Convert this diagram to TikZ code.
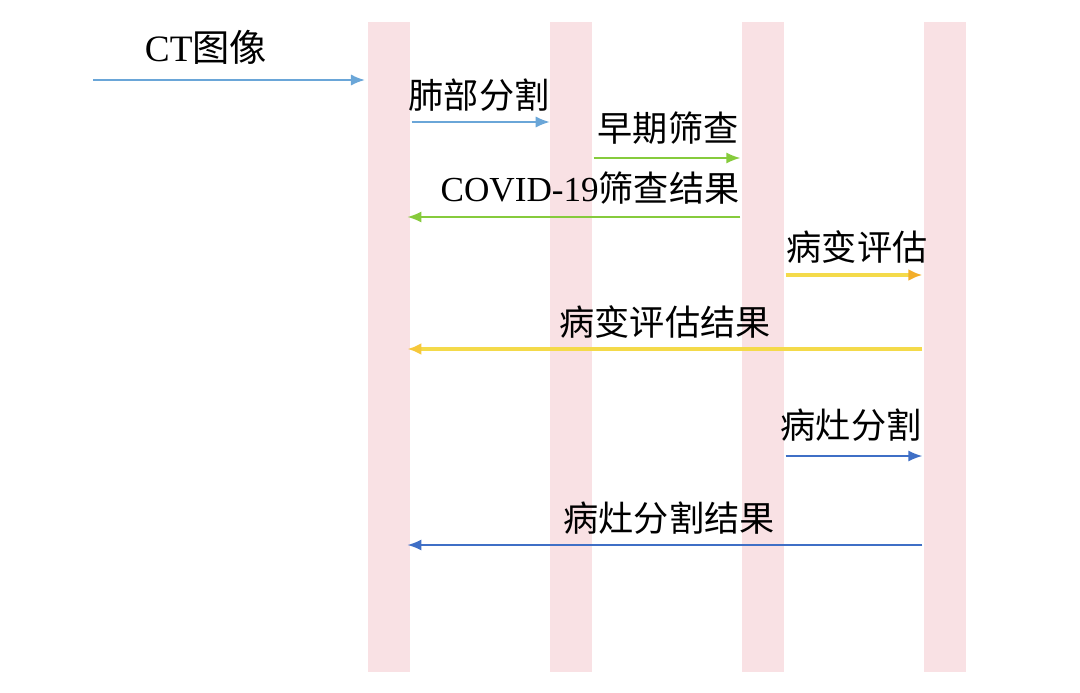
\documentclass[tikz,border=0pt]{standalone}
\usepackage{fontspec}
\setmainfont{Liberation Serif}
\newfontfamily\cjk{Noto Sans CJK SC}
\usetikzlibrary{arrows.meta, positioning}
\definecolor{LANE}{HTML}{F9E1E4}
\definecolor{SKY}{HTML}{6AA6D8}
\definecolor{GRN}{HTML}{86CB3C}
\definecolor{YEL}{HTML}{F4DA4A}
\definecolor{ORG}{HTML}{F3AE2A}
\definecolor{BLU}{HTML}{3F6FC6}
\tikzset{
  LANE/.style={% Style for the pink lifelines
      rectangle,
      fill=LANE,
      draw=none,
      inner sep=0pt,
      minimum width=1.05cm,
      minimum height=16.25cm
  },
  MSG/.style={% Style for message arrows
      line width=1.2pt,
      -{Latex[length=3.5mm,width=2.8mm]}
  },
  TXT/.style={% Style for message labels
      inner sep=0pt,
      text=black,
      font=\fontsize{25}{28}\selectfont
  }
}

\begin{document}
\begin{tikzpicture}[x=0.025cm, y=-0.025cm]
    \useasboundingbox (0,0) rectangle (1080,692);
    \foreach \n/\x in {1/389, 2/571, 3/763, 4/945} {% lifelines
        \node[LANE] (L\n) at (\x,347) {};
    }
    % y levels of the messages
    \foreach \n/\y in {1/80, 2/122, 3/158, 4/217, 5/275, 6/349, 7/456, 8/545} {
        \coordinate (m\n) at (0,\y);
    }
    \coordinate (src) at (93,80);

    \draw[MSG, SKY] (src) -- ([xshift=-2pt]L1.west |- m1);
    \node[TXT, font=\fontsize{26.5}{30}\selectfont] (t1) at (206,47) {CT{\cjk 图像}};

    \draw[MSG, SKY, shorten <=1pt] (L1.east |- m2) -- (L2.west |- m2);
    \node[TXT] (t2) at (479,95) {\cjk 肺部分割};

    \draw[MSG, GRN, shorten <=1pt] (L2.east |- m3) -- ([xshift=-1pt]L3.west |- m3);
    \node[TXT] (t3) at (668,128) {\cjk 早期筛查};

    \draw[MSG, GRN, shorten >=-2pt] ([xshift=-1pt]L3.west |- m4) -- (L1.east |- m4);
    \node[TXT] (t4) at (590,188) {COVID-19{\cjk 筛查结果}};

    \draw[line width=2.2pt, YEL, -{Latex[length=3.5mm,width=3mm,color=ORG]}, shorten <=1pt]
      (L3.east |- m5) -- ([xshift=-1pt]L4.west |- m5);
    \node[TXT] (t5) at (857,247) {\cjk 病变评估};

    \draw[line width=2.2pt, YEL, -{Latex[length=3.5mm,width=3mm,color=YEL!80!orange]}, shorten >=-2pt]
      ([xshift=-1pt]L4.west |- m6) -- (L1.east |- m6);
    \node[TXT] (t6) at (665,322) {\cjk 病变评估结果};

    \draw[MSG, BLU, shorten <=1pt] (L3.east |- m7) -- ([xshift=-1pt]L4.west |- m7);
    \node[TXT] (t7) at (851,425) {\cjk 病灶分割};

    \draw[MSG, BLU, shorten >=-2pt] ([xshift=-1pt]L4.west |- m8) -- (L1.east |- m8);
    \node[TXT] (t8) at (669,518) {\cjk 病灶分割结果};
\end{tikzpicture}
\end{document}
